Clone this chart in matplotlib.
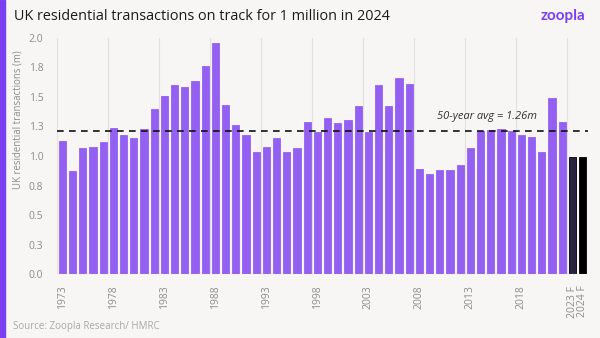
import matplotlib
matplotlib.use("Agg")
import matplotlib.pyplot as plt
from matplotlib.patches import Rectangle

# ---- data ----
years = [str(y) for y in range(1973, 2023)] + ["2023 F", "2024 F"]
transactions = [
    1.13, 0.87, 1.07, 1.08, 1.12, 1.24, 1.18, 1.15, 1.23, 1.40,
    1.51, 1.60, 1.58, 1.63, 1.76, 1.95, 1.43, 1.26, 1.18, 1.03,
    1.08, 1.15, 1.03, 1.07, 1.29, 1.20, 1.32, 1.28, 1.30, 1.42,
    1.20, 1.60, 1.42, 1.66, 1.61, 0.89, 0.85, 0.88, 0.88, 0.92,
    1.07, 1.21, 1.22, 1.23, 1.21, 1.18, 1.16, 1.03, 1.49, 1.29,
    0.99, 0.99,
]
avg_line = 1.21
avg_label = "50-year avg = 1.26m"
ytick_values = [0.0, 0.25, 0.5, 0.75, 1.0, 1.25, 1.5, 1.75, 2.0]
ytick_labels = ["0.0", "0.3", "0.5", "0.8", "1.0", "1.3", "1.5", "1.8", "2.0"]
xtick_labels = ["1973", "1978", "1983", "1988", "1993", "1998", "2003",
                "2008", "2013", "2018", "2023 F", "2024 F"]

title = "UK residential transactions on track for 1 million in 2024"
ylabel = "UK residential transactions (m)"
source = "Source: Zoopla Research/ HMRC"

# ---- styling ----
BG = "#f7f6f4"
PURPLE = "#9460f2"
BRAND = "#7b3ff2"
GREY = "#8c8c8c"
plt.rcParams["font.family"] = ["Open Sans", "DejaVu Sans"]

fig = plt.figure(figsize=(6, 3.38), dpi=100, facecolor=BG)
ax = fig.add_axes([0.0955, 0.188, 0.884, 0.701])
ax.set_facecolor(BG)

x = list(range(len(years)))
colors = [PURPLE] * 50 + ["#2b2140", "#000000"]
edges = [PURPLE] * 50 + ["#000000", "#000000"]
ax.bar(x, transactions, width=0.7, color=colors, edgecolor=edges,
       linewidth=0.6, zorder=3)

# vertical gridlines at left edge of every 5th slot
for i in range(0, 51, 5):
    ax.axvline(i - 0.5, color="#e3e1de", linewidth=0.8, zorder=1)

ax.axhline(0, color="#c9c9c9", linewidth=0.8, zorder=4)
ax.axhline(avg_line, color="#111111", linewidth=1.2, linestyle=(0, (4, 3.2)), zorder=5)
ax.text(41.6, 1.335, avg_label, ha="center", va="center", fontsize=8,
        style="italic", color="#333333", zorder=6)

ax.set_xlim(-0.5, len(years) - 0.5)
ax.set_ylim(0, 2.0)
ax.set_yticks(ytick_values)
ax.set_yticklabels(ytick_labels)
tick_pos = [years.index(t) for t in xtick_labels]
ax.set_xticks(tick_pos)
ax.set_xticklabels(xtick_labels, rotation=90)
ax.tick_params(axis="both", length=0, labelsize=7.5, labelcolor=GREY)
ax.tick_params(axis="y", pad=10)
ax.tick_params(axis="x", pad=8)
for s in ax.spines.values():
    s.set_visible(False)

ax.set_ylabel(ylabel, fontsize=6.9, color=GREY)
ax.yaxis.set_label_coords(-0.063, 0.655)

fig.text(0.024, 0.952, title, fontsize=10.4, color="#1a1a1a", ha="left", va="center")
fig.text(0.975, 0.952, "zoopla", fontsize=11, color=BRAND, ha="right", va="center",
         fontweight="bold", family="Lato")
fig.text(0.021, 0.035, source, fontsize=7, color="#a8a8a8", ha="left", va="center")

fig.add_artist(Rectangle((0, 0), 0.008, 1, transform=fig.transFigure,
                         color=BRAND, zorder=10))

fig.savefig("out.png", dpi=100, facecolor=BG)
